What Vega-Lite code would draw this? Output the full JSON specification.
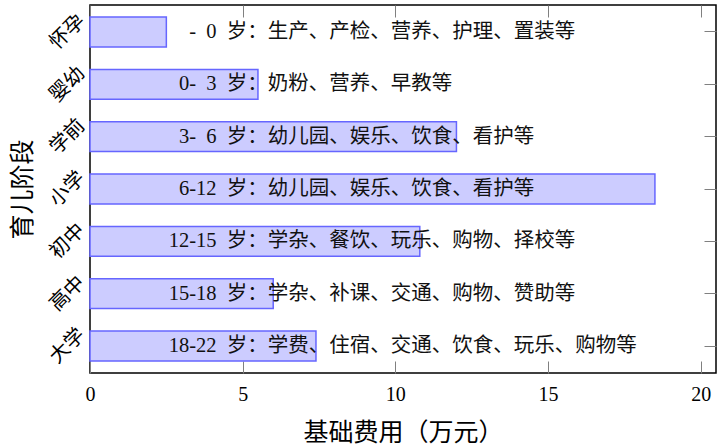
{
  "$schema": "https://vega.github.io/schema/vega-lite/v6.json",
  "autosize": {"type": "none"},
  "width": 626,
  "height": 368,
  "padding": {"left": 90, "top": 5, "right": 6, "bottom": 74},
  "background": "white",
  "config": {
    "view": {"stroke": "black", "strokeWidth": 1.5},
    "axis": {
      "domain": false,
      "grid": false,
      "zindex": 1,
      "tickColor": "#808080",
      "tickWidth": 1,
      "tickSize": -12,
      "labelColor": "black",
      "titleColor": "black",
      "titleFontWeight": "normal",
      "labelFont": "Liberation Serif, Noto Sans CJK SC",
      "titleFont": "Noto Sans CJK SC"
    }
  },
  "data": {
    "values": [
      {"stage": "怀孕", "cost": 2.5, "age": "-\u20020\u2002岁：", "desc": "生产、产检、营养、护理、置装等"},
      {"stage": "婴幼", "cost": 5.5, "age": "0-\u20023\u2002岁：", "desc": "奶粉、营养、早教等"},
      {"stage": "学前", "cost": 12.0, "age": "3-\u20026\u2002岁：", "desc": "幼儿园、娱乐、饮食、看护等"},
      {"stage": "小学", "cost": 18.5, "age": "6-12\u2002岁：", "desc": "幼儿园、娱乐、饮食、看护等"},
      {"stage": "初中", "cost": 10.8, "age": "12-15\u2002岁：", "desc": "学杂、餐饮、玩乐、购物、择校等"},
      {"stage": "高中", "cost": 6.0, "age": "15-18\u2002岁：", "desc": "学杂、补课、交通、购物、赞助等"},
      {"stage": "大学", "cost": 7.4, "age": "18-22\u2002岁：", "desc": "学费、住宿、交通、饮食、玩乐、购物等"}
    ]
  },
  "layer": [
    {
      "mark": {"type": "bar", "fill": "#ccccff", "stroke": "#6666ff", "strokeWidth": 1.5},
      "encoding": {
        "y": {
          "field": "stage", "type": "nominal", "sort": null,
          "scale": {"paddingInner": 0.43, "paddingOuter": 0.23},
          "axis": {
            "orient": "left",
            "title": "育儿阶段",
            "titleFontSize": 25,
            "titlePadding": 10,
            "labelAngle": -45,
            "labelAlign": "center",
            "labelBaseline": "middle",
            "labelFontSize": 20,
            "labelPadding": 35
          }
        },
        "x": {
          "field": "cost", "type": "quantitative",
          "scale": {"domain": [0, 20.5], "nice": false, "zero": true},
          "axis": {
            "orient": "bottom",
            "values": [0, 5, 10, 15, 20],
            "title": "基础费用（万元）",
            "titleFontSize": 25,
            "titlePadding": 16,
            "labelFontSize": 20,
            "labelPadding": 23,
            "labelFlush": false
          }
        }
      }
    },
    {
      "mark": {"type": "text", "align": "right", "baseline": "middle", "fontSize": 20.5, "font": "Liberation Serif, Noto Sans CJK SC", "color": "#111"},
      "encoding": {
        "y": {
          "field": "stage", "type": "nominal", "sort": null,
          "axis": {"orient": "right", "labels": false, "title": null}
        },
        "x": {
          "datum": 5.82, "type": "quantitative",
          "axis": {"orient": "top", "labels": false, "title": null, "values": [0, 5, 10, 15, 20]}
        },
        "text": {"field": "age"}
      }
    },
    {
      "mark": {"type": "text", "align": "left", "baseline": "middle", "fontSize": 20.5, "font": "Liberation Serif, Noto Sans CJK SC", "color": "#111"},
      "encoding": {
        "y": {"field": "stage", "type": "nominal", "sort": null, "axis": null},
        "x": {"datum": 5.82, "type": "quantitative", "axis": null},
        "text": {"field": "desc"}
      }
    }
  ]
}
